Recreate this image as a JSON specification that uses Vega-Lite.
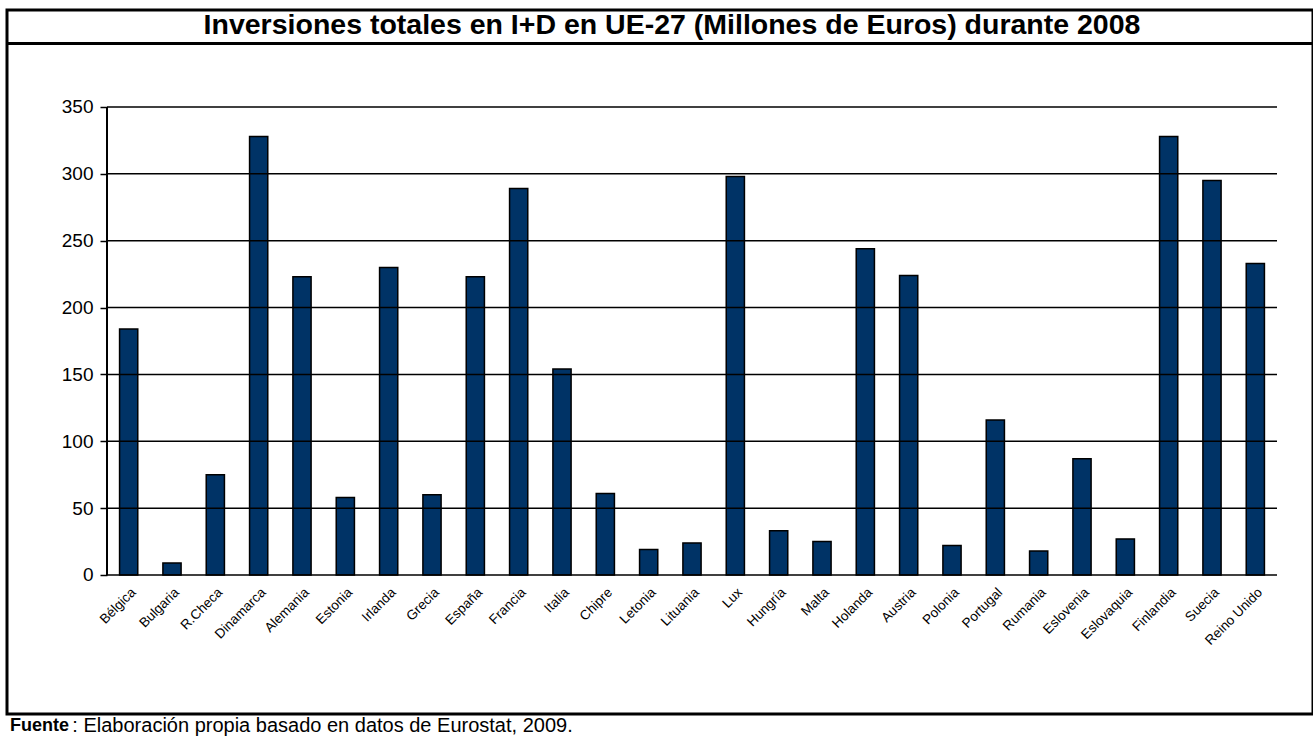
{
  "$schema": "https://vega.github.io/schema/vega-lite/v6.json",
  "width": 1306,
  "height": 704,
  "autosize": {"type": "none"},
  "padding": {"left": 7, "top": 10, "right": 0, "bottom": 22},
  "background": "white",
  "config": {
    "view": {"stroke": "black", "strokeWidth": 3},
    "font": "Liberation Sans"
  },
  "datasets": {
    "paises": [
      {"pais": "Bélgica", "valor": 184},
      {"pais": "Bulgaria", "valor": 9},
      {"pais": "R.Checa", "valor": 75},
      {"pais": "Dinamarca", "valor": 328},
      {"pais": "Alemania", "valor": 223},
      {"pais": "Estonia", "valor": 58},
      {"pais": "Irlanda", "valor": 230},
      {"pais": "Grecia", "valor": 60},
      {"pais": "España", "valor": 223},
      {"pais": "Francia", "valor": 289},
      {"pais": "Italia", "valor": 154},
      {"pais": "Chipre", "valor": 61},
      {"pais": "Letonia", "valor": 19},
      {"pais": "Lituania", "valor": 24},
      {"pais": "Lux", "valor": 298},
      {"pais": "Hungría", "valor": 33},
      {"pais": "Malta", "valor": 25},
      {"pais": "Holanda", "valor": 244},
      {"pais": "Austria", "valor": 224},
      {"pais": "Polonia", "valor": 22},
      {"pais": "Portugal", "valor": 116},
      {"pais": "Rumania", "valor": 18},
      {"pais": "Eslovenia", "valor": 87},
      {"pais": "Eslovaquia", "valor": 27},
      {"pais": "Finlandia", "valor": 328},
      {"pais": "Suecia", "valor": 295},
      {"pais": "Reino Unido", "valor": 233}
    ],
    "rejilla": [
      {"v": 0}, {"v": 50}, {"v": 100}, {"v": 150},
      {"v": 200}, {"v": 250}, {"v": 300}, {"v": 350}
    ],
    "titulo": [
      {"t": "Inversiones totales en I+D en UE-27 (Millones de Euros) durante 2008"}
    ],
    "fuente1": [{"t": "Fuente"}],
    "fuente2": [{"t": ": Elaboración propia basado en datos de Eurostat, 2009."}]
  },
  "layer": [
    {
      "data": {"name": "paises"},
      "mark": {"type": "bar", "width": {"band": 0.42}, "fill": "#003366", "stroke": "black", "strokeWidth": 1.5},
      "encoding": {
        "x": {
          "field": "pais",
          "type": "nominal",
          "sort": null,
          "title": null,
          "scale": {"type": "band", "paddingInner": 0, "paddingOuter": 0, "range": [100, 1270]},
          "axis": {
            "orient": "bottom",
            "offset": -139,
            "domain": false,
            "ticks": false,
            "grid": false,
            "labelAngle": -45,
            "labelAlign": "right",
            "labelBaseline": "top",
            "labelFont": "Liberation Sans",
            "labelFontSize": 13.5,
            "labelPadding": 10,
            "labelColor": "black",
            "labelOverlap": false,
            "title": null
          }
        },
        "y": {
          "field": "valor",
          "type": "quantitative",
          "title": null,
          "scale": {"domain": [-103.96, 422.54], "nice": false, "zero": false},
          "axis": {
            "values": [0, 50, 100, 150, 200, 250, 300, 350],
            "offset": -100,
            "domain": false,
            "grid": false,
            "tickSize": 7,
            "tickWidth": 1.5,
            "tickColor": "black",
            "labelFontSize": 19,
            "labelColor": "black",
            "labelPadding": 7,
            "title": null
          }
        },
        "y2": {"datum": 0}
      }
    },
    {
      "data": {"name": "rejilla"},
      "mark": {"type": "rule", "stroke": "black", "strokeWidth": 1.5},
      "encoding": {
        "y": {"field": "v", "type": "quantitative", "title": null},
        "x": {"datum": "Bélgica", "bandPosition": 0, "title": null},
        "x2": {"datum": "Reino Unido", "bandPosition": 1}
      }
    },
    {
      "data": {"name": "rejilla"},
      "mark": {"type": "rule", "stroke": "black", "strokeWidth": 1.5},
      "encoding": {
        "x": {"datum": "Bélgica", "bandPosition": 0, "title": null},
        "y": {"datum": 0, "title": null},
        "y2": {"datum": 350}
      }
    },
    {
      "data": {"name": "titulo"},
      "mark": {"type": "rule", "stroke": "black", "strokeWidth": 3},
      "encoding": {
        "y": {"datum": 397.5, "title": null}
      }
    },
    {
      "data": {"name": "titulo"},
      "mark": {"type": "text", "fontSize": 28.5, "fontWeight": "bold", "baseline": "middle", "align": "center", "color": "black", "dx": 12},
      "encoding": {
        "text": {"field": "t"},
        "y": {"datum": 411.3, "title": null}
      }
    },
    {
      "data": {"name": "fuente1"},
      "mark": {"type": "text", "fontSize": 18, "fontWeight": "bold", "baseline": "middle", "align": "left", "color": "black"},
      "encoding": {
        "text": {"field": "t"},
        "x": {"datum": "Bélgica", "bandPosition": -2.2385, "title": null},
        "y": {"datum": -113.3, "title": null}
      }
    },
    {
      "data": {"name": "fuente2"},
      "mark": {"type": "text", "fontSize": 20, "baseline": "middle", "align": "left", "color": "black"},
      "encoding": {
        "text": {"field": "t"},
        "x": {"datum": "Bélgica", "bandPosition": -0.8, "title": null},
        "y": {"datum": -113.3, "title": null}
      }
    }
  ]
}
